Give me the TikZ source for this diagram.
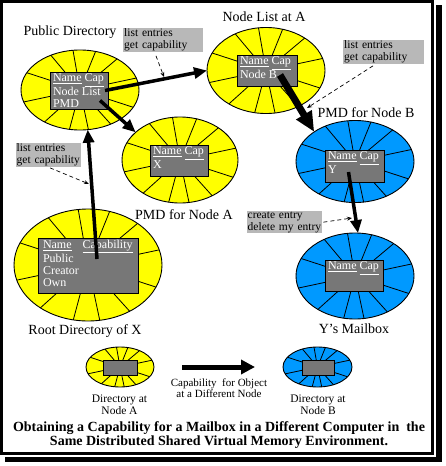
\documentclass[tikz,border=0pt]{standalone}
\usepackage{fontspec}
\setmainfont{Liberation Serif}
\usetikzlibrary{shapes.geometric,arrows.meta,calc}
\definecolor{yel}{HTML}{FFFF00}
\definecolor{blu}{HTML}{0099FF}
\definecolor{boxgray}{HTML}{777777}
\definecolor{lblgray}{HTML}{B8B8B8}
\newcommand{\bt}[3]{\parbox[c][#2][t]{#1}{#3}}
\begin{document}
\begin{tikzpicture}[x=1pt,y=-1pt,
  yellipse/.style={ellipse, draw=black, line width=0.9pt, fill=yel, inner sep=0pt, outer sep=0pt},
  bellipse/.style={ellipse, draw=black, line width=0.9pt, fill=blu, inner sep=0pt, outer sep=0pt},
  spoke/.style={line width=0.8pt},
  dbox/.style={draw=black, line width=0.9pt, fill=boxgray, text=white, inner xsep=3pt, inner ysep=2pt, outer sep=0pt, font=\fontsize{12}{11.5}\selectfont},
  sbox/.style={draw=black, line width=0.9pt, fill=boxgray, inner sep=0pt, minimum width=34pt, minimum height=15pt},
  lbl/.style={fill=lblgray, inner xsep=1pt, inner ysep=0.5pt, anchor=north west, align=left, font=\fontsize{11.5}{12}\selectfont},
  ttl/.style={font=\fontsize{14}{16}\selectfont},
  leg/.style={font=\fontsize{11.5}{12}\selectfont, align=center},
  capt/.style={font=\fontsize{14}{12.5}\selectfont\bfseries, align=center},
  bigA/.style={line width=3.5pt, -{Triangle[length=13pt,width=11pt]}},
  bigD/.style={line width=7pt, -{Triangle[length=20pt,width=17pt]}},
  bigL/.style={line width=5pt, -{Triangle[length=14pt,width=14pt]}},
  ptr/.style={line width=0.7pt, dash pattern=on 4pt off 3pt, -{Stealth[length=5pt,width=4pt]}},
]
\useasboundingbox (0,0) rectangle (445,466);
% frame and shadow
\fill[black] (436,5) rectangle (442,462);
\fill[black] (5,457) rectangle (442,462);
\draw[line width=3pt, fill=white] (1.5,1.5) rectangle (432.5,453.5);

% ellipses
\node[yellipse, minimum width=118pt, minimum height=80pt] (pd) at (80,90) {};
\node[yellipse, minimum width=118pt, minimum height=86pt] (nla) at (266,70.5) {};
\node[yellipse, minimum width=116pt, minimum height=86pt] (pma) at (180,160) {};
\node[bellipse, minimum width=118pt, minimum height=82pt] (pmb) at (355,161.5) {};
\node[bellipse, minimum width=118pt, minimum height=86pt] (mb) at (355,276) {};
\node[yellipse, minimum width=148pt, minimum height=112pt] (root) at (88,265) {};
\node[yellipse, minimum width=68pt, minimum height=40pt] (la) at (120,367) {};
\node[bellipse, minimum width=69pt, minimum height=40pt] (lb) at (317.5,367) {};

\foreach \n in {pd,nla,pma,pmb,mb,root,la,lb}{
  \foreach \a in {12,40,68,100,130,162,192,222,255,282,312,342}{
    \draw[spoke] (\n.center) -- (\n.\a);
  }
}

% boxes
\node[dbox] (pdbox) at (79,90.5) {\bt{52pt}{33pt}{\underline{Name} \underline{Cap}\\Node List\\PMD}};
\node[dbox] (nlabox) at (267,70.5) {\bt{54pt}{27pt}{\underline{Name} \underline{Cap}\\Node B}};
\node[dbox] (pmabox) at (179,160.5) {\bt{52pt}{27pt}{\underline{Name} \underline{Cap}\\X}};
\node[dbox] (pmbbox) at (354.5,166) {\bt{53pt}{28pt}{\underline{Name} \underline{Cap}\\Y}};
\node[dbox] (mbbox) at (354,275.5) {\bt{52pt}{27pt}{\underline{Name} \underline{Cap}}};
\node[dbox, font=\fontsize{12}{12}\selectfont] (rootbox) at (88,265.5) {\bt{94pt}{51pt}{\hspace*{2pt}\underline{Name}\hspace{11pt}\underline{Capability}\\\hspace*{2pt}Public\\\hspace*{2pt}Creator\\\hspace*{2pt}Own}};
\node[sbox] (labox) at (120,367.5) {};
\node[sbox, minimum width=32pt] (lbbox) at (318,367.5) {};

% titles
\node[ttl] (tpd) at (70,32) {Public Directory};
\node[ttl] (tnla) at (264,17) {Node List at A};
\node[ttl] (tpma) at (184,215) {PMD for Node A};
\node[ttl] (tpmb) at (366,113) {PMD for Node B};
\node[ttl] (tmb) at (354,329) {Y's Mailbox};
\node[ttl] (troot) at (85,331) {Root Directory of X};

% gray labels
\node[lbl, text width=78pt] (lbl1) at (123,28) {\mbox{list entries}\\\mbox{get capability}};
\node[lbl, text width=79pt] (lbl2) at (343,40) {\mbox{list entries}\\\mbox{get capability}};
\node[lbl, text width=64pt, inner xsep=0.5pt] (lbl3) at (16,143) {\mbox{list entries}\\\mbox{get capability}};
\node[lbl, text width=74pt, inner xsep=0.5pt] (lbl4) at (247,211) {\mbox{create entry}\\\mbox{delete my entry}};

% thick arrows
\draw[bigA] ($(pdbox.east)+(-3,0)$) -- (nla.west);
\draw[bigA] ($(pdbox.center)+(21,10)$) -- (pma.148);
\draw[bigA] ($(rootbox.north)+(9,21)$) -- (pd.-79);
\draw[bigD] ($(nlabox.center)+(13,4.5)$) -- (pmb.144);
\draw[bigA] ($(pmbbox.center)+(-6,6)$) -- (mb.86);
\draw[bigL] ($(la.east)+(28,0)$) -- ($(lb.west)+(-28,0)$);

% pointer targets
\coordinate (p1) at (164,77);
\coordinate (p2) at (307,108);
\coordinate (p3) at (89,184);
\coordinate (p4) at (352,218);
\draw[ptr] ($(lbl1.south west)+(33,4)$) -- (p1);
\draw[ptr] ($(lbl2.south west)+(30,2)$) -- (p2);
\draw[ptr] ($(lbl3.south west)+(34,1)$) -- (p3);
\draw[ptr] ($(lbl4.east)+(1,0)$) -- (p4);

% legend
\node[leg] (dla) at (119.5,405) {Directory at\\Node A};
\node[leg, font=\fontsize{11}{11}\selectfont] (dcap) at (219,388.5) {Capability\ \ for Object\\at a Different Node};
\node[leg] (dlb) at (318,405) {Directory at\\Node B};

% caption
\node[capt] (cap) at (219,435) {Obtaining a Capability for a Mailbox in a Different Computer in\ \ the\\Same Distributed Shared Virtual Memory Environment.};
\end{tikzpicture}
\end{document}
